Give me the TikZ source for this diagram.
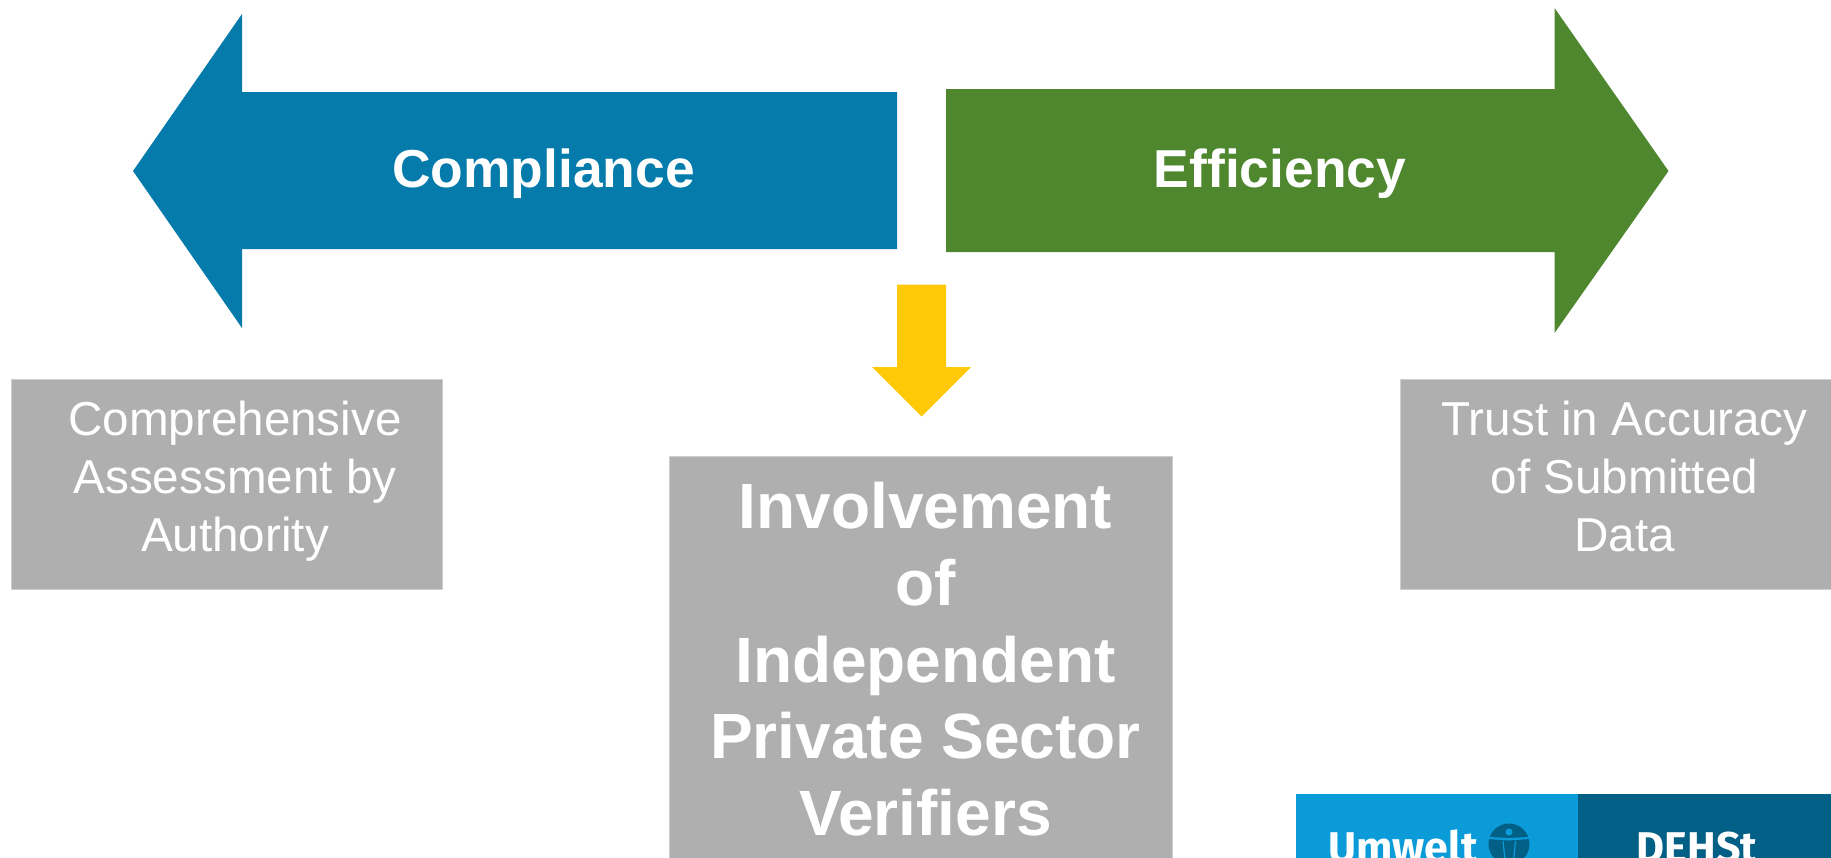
\documentclass[tikz,border=0pt]{standalone}
\usepackage{fontspec}
\setmainfont{Liberation Sans}
\newfontfamily\logofont{Fira Sans}
\definecolor{cblue}{HTML}{047BAA}
\definecolor{cgreen}{HTML}{4E872E}
\definecolor{cyellow}{HTML}{FFC907}
\definecolor{cgrey}{HTML}{AFAFAF}
\definecolor{cedge}{HTML}{CFCFCF}
\definecolor{clight}{HTML}{0A9BD8}
\definecolor{cdark}{HTML}{025F86}
\tikzset{
  px/.style={x=1pt,y=-1pt},
  greybox/.style={fill=cgrey,draw=cedge,line width=1pt},
  title/.style={text=white,inner sep=0pt,anchor=base,font=\fontsize{53.4}{58}\bfseries\selectfont},
  bodytext/.style={text=white,inner sep=0pt,anchor=north,align=center,font=\fontsize{47.6}{58}\selectfont},
  bigtext/.style={text=white,inner sep=0pt,anchor=north,align=center,font=\fontsize{64}{76.8}\bfseries\selectfont},
  logotext/.style={text=white,inner sep=0pt,anchor=base,font=\fontsize{43}{48}\logofont\bfseries\selectfont}
}
\begin{document}
\begin{tikzpicture}[px]
\useasboundingbox (0,0) rectangle (1831,857);
\clip (0,0) rectangle (1831,857);
% arrows
\fill[cblue] (133,171) -- (242,14) -- (242,92) -- (897,92) -- (897,249) -- (242,249) -- (242,328) -- cycle;
\fill[cgreen] (1668.5,171) -- (1554.5,8) -- (1554.5,89) -- (946,89) -- (946,252) -- (1554.5,252) -- (1554.5,333) -- cycle;
\fill[cyellow] (897,284.5) -- (946,284.5) -- (946,367) -- (971,367) -- (921.5,416.5) -- (872,367) -- (897,367) -- cycle;
% boxes
\path[greybox] (11,379) rectangle (442,589);
\path[greybox] (1400,379) rectangle (1840,589);
\path[greybox] (669,456) rectangle (1172,870);
% logo
\fill[clight] (1296,794) rectangle (1578,870);
\fill[cdark] (1578,794) rectangle (1840,870);
\fill[cdark] (1509,844) circle (20.5);
\fill[clight] (1509,832) circle (3.5);
\fill[clight] (1488.5,837) -- (1509,838) -- (1529.5,837) -- (1529.5,839) -- (1509,840.5) -- (1488.5,839) -- cycle;
\draw[clight,line width=1.2pt] (1503,841) -- (1505,860);
\draw[clight,line width=1.2pt] (1515.5,841) -- (1513.5,860);
% text
\node[title] (compliance) at (543.5,187.5) {Compliance};
\node[title] (efficiency) at (1280,187.5) {Efficiency};
\node[bodytext] (assess) at (235,400.5) {Comprehensive\\Assessment by\\Authority};
\node[bodytext] (trust) at (1624.5,400.5) {Trust in Accuracy\\of Submitted\\Data};
\node[bigtext] (involve) at (925.5,482) {Involvement\\of\\Independent\\Private Sector\\Verifiers};
\node[logotext] (umwelt) at (1403,862) {Umwelt};
\node[logotext] (dehst) at (1697,862) {DEHSt};
\end{tikzpicture}
\end{document}
